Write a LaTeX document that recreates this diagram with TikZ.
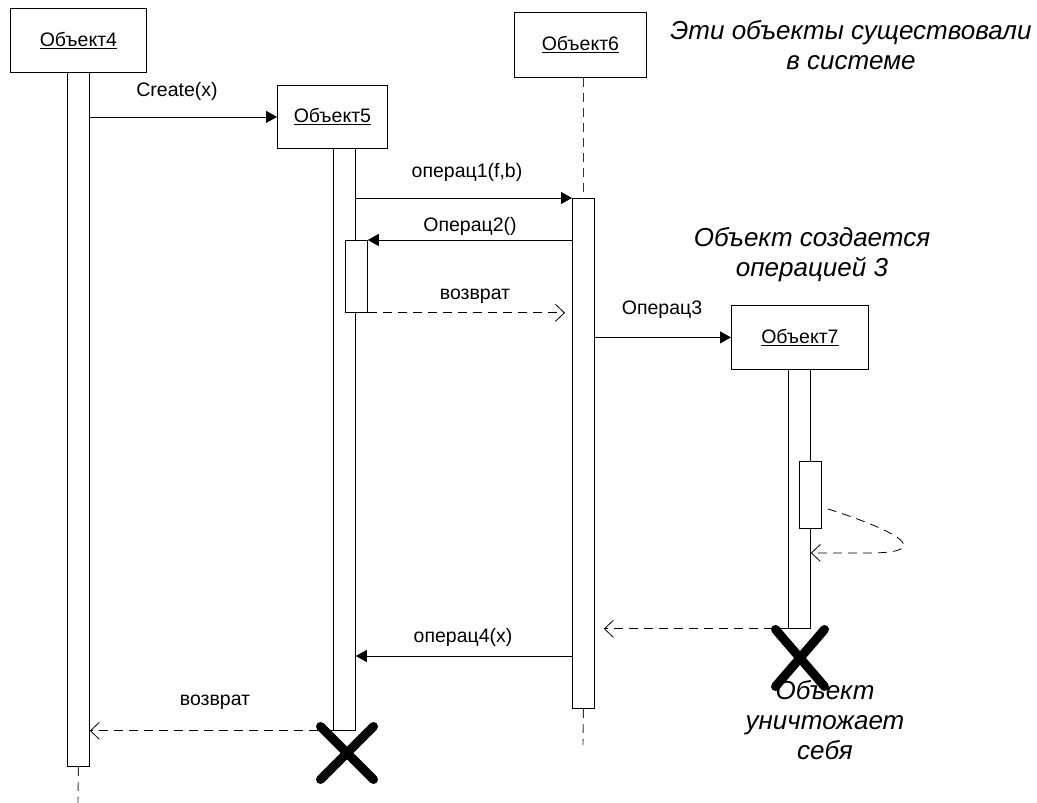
\documentclass[tikz,border=0pt]{standalone}
\usepackage{fontspec}
\setmainfont{Liberation Sans}
\usetikzlibrary{arrows.meta,shapes.misc}
\begin{document}
\begin{tikzpicture}[x=1pt,y=-1pt,
  objbox/.style={draw,line width=0.8pt,fill=white,inner sep=0pt,anchor=north west,minimum height=64pt,font=\fontsize{19.5}{22}\selectfont},
  bar/.style={draw,line width=0.8pt,fill=white,inner sep=0pt,anchor=north west,minimum width=22pt},
  lbl/.style={font=\fontsize{19.5}{22}\selectfont,inner sep=0pt},
  note/.style={font=\fontsize{26}{30}\selectfont\itshape,align=center,inner sep=0pt},
  lifeline/.style={draw=black!80,line width=0.9pt,dash pattern=on 9pt off 6pt},
  sync/.style={line width=0.8pt,-{Triangle[length=11pt,width=12pt]}},
  ret/.style={line width=0.8pt,dash pattern=on 9pt off 6pt,-{Straight Barb[length=9pt,width=17pt]}},
  killx/.style={cross out,draw,line width=9pt,line cap=round,inner sep=0pt}
]
\useasboundingbox (0,0) rectangle (1037,803);

% objects
\node[objbox,minimum width=136pt] (obj4) at (10,8) {\underline{Объект4}};
\node[objbox,minimum width=110pt,minimum height=63pt] (obj5) at (277,85) {\underline{Объект5}};
\node[objbox,minimum width=132pt,minimum height=65pt] (obj6) at (514,12) {\underline{Объект6}};
\node[objbox,minimum width=137pt] (obj7) at (731,305) {\underline{Объект7}};

% lifeline ends
\coordinate (end4) at (78,803);
\coordinate (end6) at (583,745);

% activation bars
\node[bar,minimum height=694pt] (bar4) at (67,72) {};
\node[bar,minimum height=582pt] (bar5) at (333,148) {};
\node[bar,minimum height=72pt] (act5) at (345,240) {};
\node[bar,minimum height=510pt] (bar6) at (572,198) {};
\node[bar,minimum height=259pt] (bar7) at (788,369) {};
\node[bar,minimum height=67pt] (act7) at (799,461) {};

\draw[lifeline] (bar4.south) -- (end4);
\draw[lifeline] (bar6.north |- obj6.south) -- (bar6.north);
\draw[lifeline] (bar6.south) -- (end6);

% messages
\draw[sync] (bar4.east |- obj5.west) -- (obj5.west);
\node[lbl] (l1) at (177,91) {Create(x)};

\draw[sync] (bar5.east |- bar6.north west) -- (bar6.north west);
\node[lbl] (l2) at (467,172) {операц1(f,b)};

\draw[sync] (bar6.west |- act5.north east) -- (act5.north east);
\node[lbl] (l3) at (470,226) {Операц2()};

\draw[ret,shorten >=7pt] (act5.south east) -- (bar6.west |- act5.south east);
\node[lbl] (l4) at (475,296) {возврат};

\draw[sync] (bar6.east |- obj7.west) -- (obj7.west);
\node[lbl] (l5) at (662,310) {Операц3};

\draw[ret] ([xshift=6pt,yshift=-14pt]act7.east) .. controls (900,532) and (935,553) .. (868,553) -- ([yshift=-54pt]bar7.east);

\draw[ret,shorten >=9pt] (bar7.south west) -- (bar6.east |- bar7.south west);

\draw[sync] ([yshift=-458pt]bar6.north west) -- (bar5.east |- 0,656);
\node[lbl] (l6) at (463,637) {операц4(x)};

\draw[ret] (bar5.south west) -- (bar4.east |- bar5.south west);
\node[lbl] (l7) at (215,702) {возврат};

% destruction marks
\node[killx,minimum width=44pt,minimum height=44pt] (x5) at (347,753) {};
\node[killx,minimum width=40pt,minimum height=48pt] (x7) at (800,658) {};

% notes
\node[note] (n1) at (851,45) {Эти объекты существовали\\в системе};
\node[note] (n2) at (812,255) {Объект создается\\операцией 3};
\node[note] (n3) at (825,720) {Объект\\уничтожает\\себя};
\end{tikzpicture}
\end{document}
